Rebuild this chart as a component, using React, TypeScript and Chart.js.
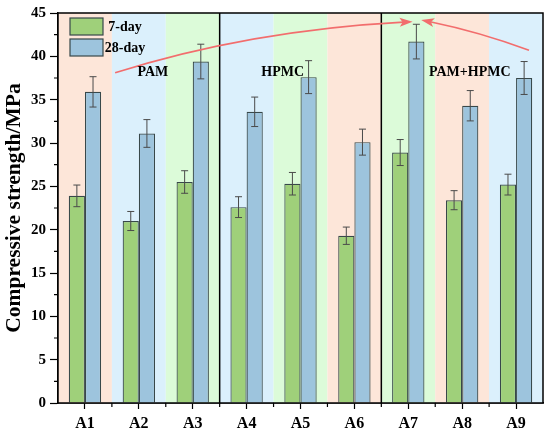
import { useEffect, useRef } from "react";
import { Chart, registerables } from "chart.js";

Chart.register(...registerables);

const categories = ["A1", "A2", "A3", "A4", "A5", "A6", "A7", "A8", "A9"];
const day7 = [23.9, 21.0, 25.5, 22.6, 25.3, 19.3, 28.9, 23.4, 25.2];
const day7Err = [1.25, 1.1, 1.3, 1.2, 1.3, 1.0, 1.5, 1.1, 1.2];
const day28 = [35.9, 31.1, 39.4, 33.6, 37.6, 30.1, 41.7, 34.3, 37.5];
const day28Err = [1.75, 1.6, 2.0, 1.7, 1.9, 1.5, 2.0, 1.75, 1.9];

const bandColors = ["#fde6d9", "#dbf0fc", "#dcfbd9", "#dbf0fc", "#dcfbd9", "#fde6d9", "#dcfbd9", "#fde6d9", "#dbf0fc"];
const groupLabels = ["PAM", "HPMC", "PAM+HPMC"];
const groupLabelX = [1.26, 3.67, 7.14];
const groupLabelY = 38.1;
const groupDividers = [2.5, 5.5];

// arrows in data space: [start, control, tip] as [categoryIndex, value]
const arrows: Array<Array<[number, number]>> = [
  [[0.56, 38.1], [3.06, 43.0], [6.08, 44.0]],
  [[8.24, 40.7], [7.33, 42.8], [6.24, 44.2]],
];

const FONT = "'Liberation Serif', 'Times New Roman', serif";
const GREEN = "#9fd07a";
const BLUE = "#9dc4dd";
const EDGE = "#38484a";
const ARROW = "#f26d6d";

const decorPlugin = {
  id: "decor",
  beforeDatasetsDraw(chart: any) {
    const { ctx, chartArea: a, scales } = chart;
    const x = scales.x;
    ctx.save();
    categories.forEach((_, i) => {
      const l = Math.max(a.left, x.getPixelForValue(i - 0.5));
      const r = Math.min(a.right, x.getPixelForValue(i + 0.5));
      ctx.fillStyle = bandColors[i];
      ctx.fillRect(l, a.top, r - l, a.bottom - a.top);
    });
    ctx.strokeStyle = "#000";
    ctx.lineWidth = 1.5;
    groupDividers.forEach((d) => {
      const px = x.getPixelForValue(d);
      ctx.beginPath();
      ctx.moveTo(px, a.top);
      ctx.lineTo(px, a.bottom);
      ctx.stroke();
    });
    ctx.restore();
  },
  afterDatasetsDraw(chart: any) {
    const { ctx, chartArea: a, scales } = chart;
    const x = scales.x;
    const y = scales.y;
    ctx.save();

    // error bars
    const errs = [day7Err, day28Err];
    chart.data.datasets.forEach((ds: any, di: number) => {
      const meta = chart.getDatasetMeta(di);
      meta.data.forEach((bar: any, i: number) => {
        const v = ds.data[i];
        const e = errs[di][i];
        const top = y.getPixelForValue(v + e);
        const bot = y.getPixelForValue(v - e);
        ctx.strokeStyle = "#4a4a4a";
        ctx.lineWidth = 1;
        ctx.beginPath();
        ctx.moveTo(bar.x, top);
        ctx.lineTo(bar.x, bot);
        ctx.moveTo(bar.x - 3.5, top);
        ctx.lineTo(bar.x + 3.5, top);
        ctx.moveTo(bar.x - 3.5, bot);
        ctx.lineTo(bar.x + 3.5, bot);
        ctx.stroke();
      });
    });

    // arrows
    arrows.forEach((pts) => {
      const p = pts.map(([cx, cy]) => [x.getPixelForValue(cx), y.getPixelForValue(cy)]);
      const [s, c, t] = p;
      const ang = Math.atan2(t[1] - c[1], t[0] - c[0]);
      const len = 13;
      const bx = t[0] - len * Math.cos(ang);
      const by = t[1] - len * Math.sin(ang);
      ctx.strokeStyle = ARROW;
      ctx.fillStyle = ARROW;
      ctx.lineWidth = 1.6;
      ctx.beginPath();
      ctx.moveTo(s[0], s[1]);
      ctx.quadraticCurveTo(c[0], c[1], bx + 4 * Math.cos(ang), by + 4 * Math.sin(ang));
      ctx.stroke();
      ctx.beginPath();
      ctx.moveTo(t[0], t[1]);
      ctx.lineTo(bx + 4.5 * Math.sin(ang), by - 4.5 * Math.cos(ang));
      ctx.lineTo(bx + 3 * Math.cos(ang), by + 3 * Math.sin(ang));
      ctx.lineTo(bx - 4.5 * Math.sin(ang), by + 4.5 * Math.cos(ang));
      ctx.closePath();
      ctx.fill();
    });

    // group labels
    ctx.fillStyle = "#000";
    ctx.font = `bold 14px ${FONT}`;
    ctx.textAlign = "center";
    ctx.textBaseline = "middle";
    groupLabels.forEach((lbl, i) => {
      ctx.fillText(lbl, x.getPixelForValue(groupLabelX[i]), y.getPixelForValue(groupLabelY));
    });

    // legend
    chart.data.datasets.forEach((ds: any, di: number) => {
      const bx = a.left + 12;
      const by = a.top + 5 + di * 21;
      ctx.fillStyle = ds.backgroundColor;
      ctx.fillRect(bx, by, 33, 17);
      ctx.strokeStyle = EDGE;
      ctx.lineWidth = 1.2;
      ctx.strokeRect(bx, by, 33, 17);
      ctx.fillStyle = "#000";
      ctx.font = `bold 14px ${FONT}`;
      ctx.textAlign = "center";
      ctx.fillText(ds.label, a.left + 67, by + 9);
    });

    ctx.restore();
  },
  afterDraw(chart: any) {
    const { ctx, chartArea: a, scales } = chart;
    const x = scales.x;
    const y = scales.y;
    ctx.save();
    ctx.strokeStyle = "#000";
    ctx.lineWidth = 1.5;
    ctx.strokeRect(a.left, a.top, a.right - a.left, a.bottom - a.top);
    // minor ticks
    ctx.lineWidth = 1.2;
    ctx.beginPath();
    for (let v = 2.5; v < 45; v += 5) {
      const py = y.getPixelForValue(v);
      ctx.moveTo(a.left, py);
      ctx.lineTo(a.left - 4, py);
    }
    for (let i = 0; i < categories.length - 1; i++) {
      const px = x.getPixelForValue(i + 0.5);
      ctx.moveTo(px, a.bottom);
      ctx.lineTo(px, a.bottom + 4);
    }
    ctx.stroke();
    ctx.restore();
  },
};

export default function App() {
  const canvasRef = useRef<HTMLCanvasElement>(null);
  const chartInstance = useRef<Chart | null>(null);

  useEffect(() => {
    document.body.style.margin = "0";
    if (!canvasRef.current) return;
    if (chartInstance.current) chartInstance.current.destroy();

    chartInstance.current = new Chart(canvasRef.current, {
      type: "bar",
      data: {
        labels: categories,
        datasets: [
          {
            label: "7-day",
            data: day7,
            backgroundColor: GREEN,
            borderColor: EDGE,
            borderWidth: 1.2,
            categoryPercentage: 0.6,
            barPercentage: 1.0,
          },
          {
            label: "28-day",
            data: day28,
            backgroundColor: BLUE,
            borderColor: EDGE,
            borderWidth: 1.2,
            categoryPercentage: 0.6,
            barPercentage: 1.0,
          },
        ],
      },
      options: {
        responsive: false,
        animation: false,
        layout: { padding: { top: 13, right: 7, left: 0, bottom: 0 } },
        plugins: {
          legend: { display: false },
          tooltip: { enabled: false },
        },
        scales: {
          x: {
            afterFit: (s: any) => {
              s.height = 32;
            },
            grid: {
              offset: false,
              drawOnChartArea: false,
              drawTicks: true,
              tickLength: 6,
              tickWidth: 1.2,
              tickColor: "#000",
            },
            border: { color: "#000", width: 1.5 },
            ticks: {
              color: "#000",
              padding: 5,
              font: { family: FONT, size: 16, weight: "bold" },
            },
          },
          y: {
            min: 0,
            max: 45,
            afterFit: (s: any) => {
              s.width = 58;
            },
            grid: {
              drawOnChartArea: false,
              drawTicks: true,
              tickLength: 8,
              tickWidth: 1.2,
              tickColor: "#000",
            },
            border: { color: "#000", width: 1.5 },
            ticks: {
              stepSize: 5,
              color: "#000",
              padding: 4,
              font: { family: FONT, size: 15, weight: "bold" },
            },
            title: {
              display: true,
              text: "Compressive strength/MPa",
              color: "#000",
              padding: { top: 2, bottom: 0 },
              font: { family: FONT, size: 21.5, weight: "bold" },
            },
          },
        },
      },
      plugins: [decorPlugin],
    });

    return () => {
      if (chartInstance.current) {
        chartInstance.current.destroy();
        chartInstance.current = null;
      }
    };
  }, []);

  return (
    <div style={{ width: 550, height: 435, background: "#fff" }}>
      <canvas ref={canvasRef} width={550} height={435} style={{ width: 550, height: 435 }}></canvas>
    </div>
  );
}
